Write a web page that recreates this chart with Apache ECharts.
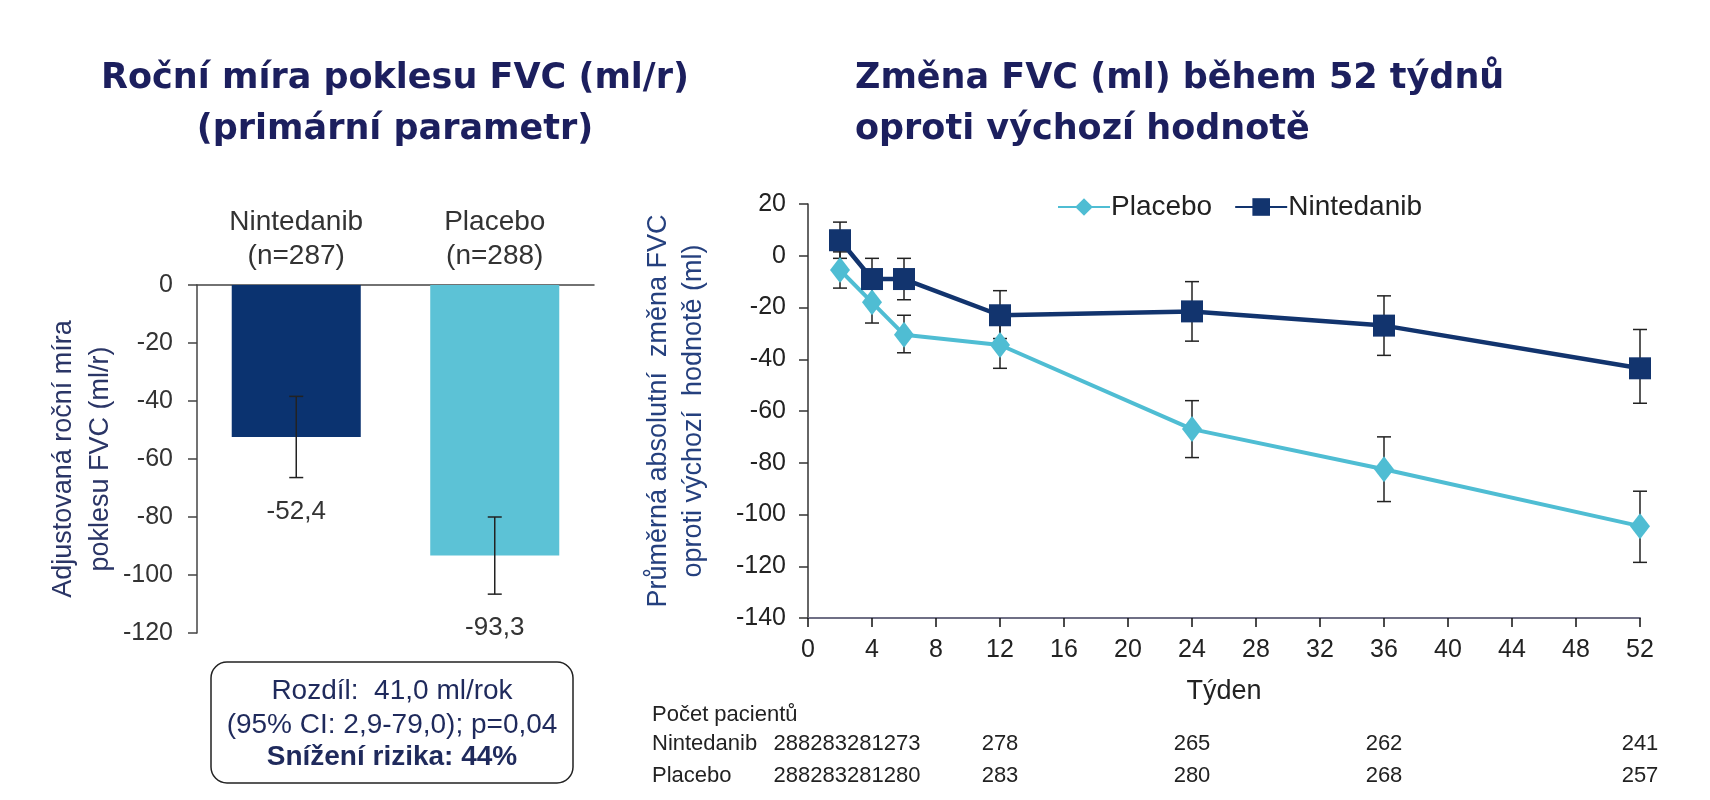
<!DOCTYPE html>
<html>
<head>
<meta charset="utf-8">
<script src="https://cdn.jsdelivr.net/npm/echarts@6.0.0/dist/echarts.min.js"></script>
<style>
  html, body { margin: 0; padding: 0; background: #fff; }
  #chart { width: 1710px; height: 800px; }
</style>
</head>
<body>
<div id="chart"></div>
<script>
// levý graf - roční míra poklesu
var barCategories = ['Nintedanib', 'Placebo'];
var barN = ['(n=287)', '(n=288)'];
var barValues = [-52.4, -93.3];
var barLow = [-66.4, -106.6];
var barHigh = [-38.4, -80.0];

// pravý graf - změna FVC v čase
var weeks = [2, 4, 6, 12, 24, 36, 52];
var placeboMean = [-5.5, -18, -30.5, -34.5, -67, -82.5, -104.5];
var placeboLow = [-12.5, -26, -37.5, -43.5, -78, -95, -118.5];
var placeboHigh = [1.5, -10, -23, -25.5, -56, -70, -91];
var nintedanibMean = [6, -9, -9, -23, -21.5, -27, -43.5];
var nintedanibLow = [-1, -17, -17, -32, -33, -38.5, -57];
var nintedanibHigh = [13, -1, -1, -13.5, -10, -15.5, -28.5];

// počet pacientů
var tableWeeks = [0, 2, 4, 6, 12, 24, 36, 52];
var nintedanibCount = [288, 283, 281, 273, 278, 265, 262, 241];
var placeboCount = [288, 283, 281, 280, 283, 280, 268, 257];

var NAVY = '#12346e';
var CYAN = '#4fbdd3';
var TXT = '#1c1f5e';
var FONT = '"Liberation Sans", Arial, sans-serif';

function zip3(a, b, c) {
  var out = [];
  for (var i = 0; i < a.length; i++) out.push([a[i], b[i], c[i]]);
  return out;
}
function fmt(v) { return String(v.toFixed(1)).replace('.', ','); }

function errBar(capW, showLabel) {
  return function (params, api) {
    var x = api.value(0);
    var lo = api.coord([x, api.value(1)]);
    var hi = api.coord([x, api.value(2)]);
    var st = { stroke: '#222', lineWidth: 1.5 };
    var kids = [
      { type: 'line', shape: { x1: lo[0], y1: lo[1], x2: hi[0], y2: hi[1] }, style: st },
      { type: 'line', shape: { x1: lo[0] - capW / 2, y1: lo[1], x2: lo[0] + capW / 2, y2: lo[1] }, style: st },
      { type: 'line', shape: { x1: hi[0] - capW / 2, y1: hi[1], x2: hi[0] + capW / 2, y2: hi[1] }, style: st }
    ];
    if (showLabel) {
      kids.push({ type: 'text', x: lo[0], y: lo[1] + 34, style: {
        text: fmt(barValues[params.dataIndex]), fill: '#333', font: '26px ' + FONT,
        align: 'center', verticalAlign: 'middle' } });
    }
    return { type: 'group', children: kids };
  };
}

var chart = echarts.init(document.getElementById('chart'));
var option = {
  backgroundColor: '#fff',
  animation: false,
  textStyle: { fontFamily: FONT },
  grid: [
    { left: 197, right: 1116, top: 285, bottom: 167 },
    { left: 808, right: 70, top: 204, bottom: 182 }
  ],
  legend: {
    left: 1052, top: 188, itemWidth: 52, itemHeight: 22, itemGap: 22,
    data: ['Placebo', 'Nintedanib'],
    textStyle: { fontSize: 28, color: '#222', fontFamily: FONT, padding: [0, 0, 0, -4] }
  },
  xAxis: [
    {
      gridIndex: 0, type: 'category', position: 'top', data: barCategories,
      axisLine: { lineStyle: { color: '#444', width: 1.5 } },
      axisTick: { inside: true, length: 9, lineStyle: { color: '#444', width: 1.5 } },
      axisLabel: {
        margin: 12, color: '#333', fontSize: 28, lineHeight: 34,
        formatter: function (v, i) { return v + '\n' + barN[i]; }
      }
    },
    {
      gridIndex: 1, type: 'value', min: 0, max: 52, interval: 4,
      name: 'Týden', nameLocation: 'middle', nameGap: 60,
      nameTextStyle: { fontSize: 27, color: '#222' },
      splitLine: { show: false },
      axisLine: { onZero: false, lineStyle: { color: '#6f6f85', width: 2 } },
      axisTick: { length: 9, lineStyle: { color: '#111', width: 1.5 } },
      axisLabel: { margin: 20, color: '#222', fontSize: 25 }
    }
  ],
  yAxis: [
    {
      gridIndex: 0, type: 'value', min: -120, max: 0, interval: 20,
      name: 'Adjustovaná roční míra\npoklesu FVC (ml/r)', nameLocation: 'middle', nameRotate: 90, nameGap: 76,
      nameTextStyle: { fontSize: 27, color: '#2a3566', lineHeight: 37 },
      splitLine: { show: false },
      axisLine: { show: true, lineStyle: { color: '#444', width: 1.5 } },
      axisTick: { show: true, length: 9, lineStyle: { color: '#444', width: 1.5 } },
      axisLabel: { margin: 24, color: '#333', fontSize: 25 }
    },
    {
      gridIndex: 1, type: 'value', min: -140, max: 20, interval: 20,
      name: 'Průměrná absolutní  změna FVC\noproti výchozí  hodnotě (ml)', nameLocation: 'middle', nameRotate: 90, nameGap: 97,
      nameTextStyle: { fontSize: 27, color: '#25407e', lineHeight: 35 },
      splitLine: { show: false },
      axisLine: { show: true, lineStyle: { color: '#333', width: 1.5 } },
      axisTick: { show: true, length: 9, lineStyle: { color: '#333', width: 1.5 } },
      axisLabel: { margin: 22, color: '#222', fontSize: 25 }
    }
  ],
  series: [
    {
      type: 'bar', xAxisIndex: 0, yAxisIndex: 0, barWidth: '65%',
      data: barValues.map(function (v, i) {
        return { value: v, itemStyle: { color: i === 0 ? '#0b3370' : '#5cc2d6' } };
      })
    },
    {
      type: 'custom', xAxisIndex: 0, yAxisIndex: 0, z: 5,
      data: zip3([0, 1], barLow, barHigh),
      encode: { x: 0, y: [1, 2] },
      renderItem: errBar(14, true)
    },
    {
      type: 'custom', xAxisIndex: 1, yAxisIndex: 1, z: 1,
      data: zip3(weeks, placeboLow, placeboHigh),
      encode: { x: 0, y: [1, 2] },
      renderItem: errBar(14, false)
    },
    {
      type: 'custom', xAxisIndex: 1, yAxisIndex: 1, z: 1,
      data: zip3(weeks, nintedanibLow, nintedanibHigh),
      encode: { x: 0, y: [1, 2] },
      renderItem: errBar(14, false)
    },
    {
      name: 'Placebo', type: 'line', xAxisIndex: 1, yAxisIndex: 1, z: 3,
      data: weeks.map(function (w, i) { return [w, placeboMean[i]]; }),
      symbol: 'diamond', symbolSize: [20, 26], showAllSymbol: true,
      lineStyle: { color: CYAN, width: 4 }, itemStyle: { color: CYAN }
    },
    {
      name: 'Nintedanib', type: 'line', xAxisIndex: 1, yAxisIndex: 1, z: 4,
      data: weeks.map(function (w, i) { return [w, nintedanibMean[i]]; }),
      symbol: 'rect', symbolSize: 22, showAllSymbol: true,
      lineStyle: { color: NAVY, width: 4.5 }, itemStyle: { color: NAVY }
    }
  ]
};
chart.setOption(option);

// titulky, rámeček a tabulka počtu pacientů
var g = [];
var titleFont = 'bold 35px "DejaVu Sans", Verdana, sans-serif';
g.push({ type: 'text', x: 395, y: 79, style: { text: 'Roční míra poklesu FVC (ml/r)', font: titleFont, fill: TXT, align: 'center', verticalAlign: 'middle' } });
g.push({ type: 'text', x: 395, y: 130, style: { text: '(primární parametr)', font: titleFont, fill: TXT, align: 'center', verticalAlign: 'middle' } });
g.push({ type: 'text', x: 855, y: 79, style: { text: 'Změna FVC (ml) během 52 týdnů', font: titleFont, fill: TXT, align: 'left', verticalAlign: 'middle' } });
g.push({ type: 'text', x: 855, y: 130, style: { text: 'oproti výchozí hodnotě', font: titleFont, fill: TXT, align: 'left', verticalAlign: 'middle' } });

g.push({ type: 'rect', shape: { x: 211, y: 662, width: 362, height: 121, r: 16 }, style: { fill: '#fff', stroke: '#222', lineWidth: 1.5 } });
var boxFont = '28px ' + FONT;
g.push({ type: 'text', x: 392, y: 691, style: { text: 'Rozdíl:  41,0 ml/rok', font: boxFont, fill: '#1f2a5c', align: 'center', verticalAlign: 'middle' } });
g.push({ type: 'text', x: 392, y: 725, style: { text: '(95% CI: 2,9-79,0); p=0,04', font: boxFont, fill: '#1f2a5c', align: 'center', verticalAlign: 'middle' } });
g.push({ type: 'text', x: 392, y: 757, style: { text: 'Snížení rizika: 44%', font: 'bold ' + boxFont, fill: '#1f2a5c', align: 'center', verticalAlign: 'middle' } });

var tFont = '22px ' + FONT;
g.push({ type: 'text', x: 652, y: 715, style: { text: 'Počet pacientů', font: tFont, fill: '#222', verticalAlign: 'middle' } });
var rows = [['Nintedanib', nintedanibCount, 744], ['Placebo', placeboCount, 776]];
rows.forEach(function (r) {
  g.push({ type: 'text', x: 652, y: r[2], style: { text: r[0], font: tFont, fill: '#222', verticalAlign: 'middle' } });
  // první čtyři hodnoty jsou v originále natěsnané vedle sebe
  var early = [], sx = 0;
  tableWeeks.forEach(function (w, i) {
    var px = chart.convertToPixel({ xAxisIndex: 1 }, w);
    if (w <= 6) { early.push(r[1][i]); sx += px; }
    else g.push({ type: 'text', x: px, y: r[2], style: { text: String(r[1][i]), font: tFont, fill: '#222', align: 'center', verticalAlign: 'middle' } });
  });
  g.push({ type: 'text', x: sx / early.length - 9, y: r[2], style: { text: early.join(''), font: tFont, fill: '#222', align: 'center', verticalAlign: 'middle' } });
});
chart.setOption({ graphic: g });
</script>
</body>
</html>
